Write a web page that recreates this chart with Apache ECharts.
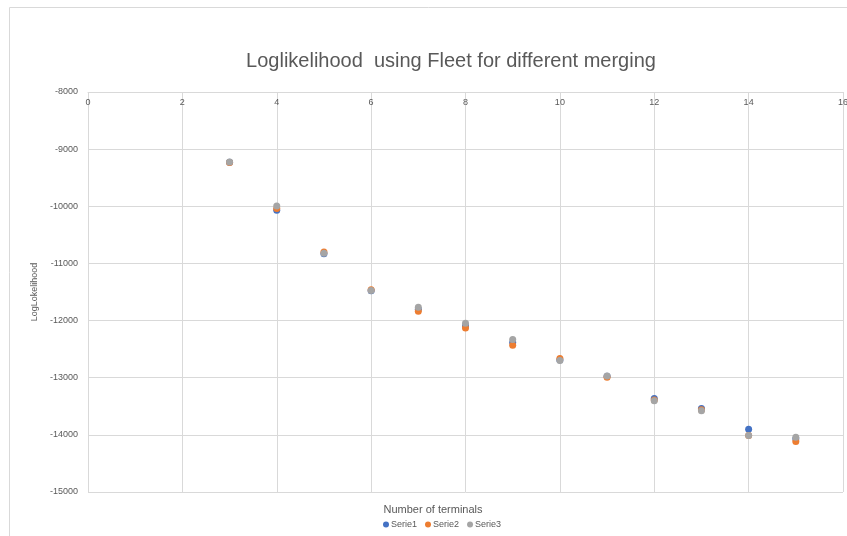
<!DOCTYPE html>
<html>
<head>
<meta charset="utf-8">
<script src="https://cdn.jsdelivr.net/npm/echarts@6/dist/echarts.min.js"></script>
<style>
  html, body { margin: 0; padding: 0; background: #fff; }
  #chart { width: 847px; height: 536px; }
</style>
</head>
<body>
<div id="chart"></div>
<script>
// Number of terminals per merging level
const terminals = [3, 4, 5, 6, 7, 8, 9, 10, 11, 12, 13, 14, 15];
// Log-likelihood per series
const serie1 = [-9230, -10070, -10830, -11480, -11800, -12095, -12385, -12690, -12975, -13365, -13540, -13900, -14070];
const serie2 = [-9235, -10040, -10800, -11460, -11835, -12130, -12430, -12665, -12990, -13390, -13560, -14010, -14115];
const serie3 = [-9225, -9995, -10820, -11475, -11765, -12045, -12330, -12700, -12970, -13405, -13580, -14010, -14040];
const xTicks = { min: 0, max: 16, step: 2 };
const yTicks = { min: -15000, max: -8000, step: 1000 };

const colors = ['#4472C4', '#ED7D31', '#A5A5A5'];
const font = 'Liberation Sans, Arial, sans-serif';

function pairs(vals) {
  return terminals.map((t, i) => [t, vals[i]]);
}

const chart = echarts.init(document.getElementById('chart'));
chart.setOption({
  animation: false,
  color: colors,
  grid: { left: 88, right: 4, top: 92, bottom: 44, outerBoundsMode: 'none' },
  legend: {
    bottom: 2,
    left: 378,
    itemWidth: 6,
    itemHeight: 6,
    itemGap: 8,
    icon: 'circle',
    textStyle: { fontFamily: font, fontSize: 9, color: '#595959', padding: [0, 0, 0, -3] },
    data: ['Serie1', 'Serie2', 'Serie3']
  },
  graphic: [
    { type: 'rect', shape: { x: 9.5, y: 7.5, width: 900, height: 600 }, style: { fill: 'none', stroke: '#d9d9d9', lineWidth: 1 }, silent: true },
    { type: 'text', x: 451, y: 61, style: { text: 'Loglikelihood  using Fleet for different merging', fontFamily: font, fontSize: 20, fill: '#595959', align: 'center', verticalAlign: 'middle' } },
    { type: 'text', x: 433, y: 510, style: { text: 'Number of terminals', fontFamily: font, fontSize: 11, fill: '#595959', align: 'center', verticalAlign: 'middle' } }
  ],
  xAxis: {
    type: 'value',
    position: 'top',
    min: xTicks.min, max: xTicks.max, interval: xTicks.step,
    axisLine: { show: true, lineStyle: { color: '#d9d9d9' } },
    axisTick: { show: false },
    axisLabel: { inside: true, margin: 6, fontFamily: font, fontSize: 9, color: '#595959', verticalAlign: 'top' },
    splitLine: { show: true, lineStyle: { color: '#d9d9d9' } }
  },
  yAxis: {
    type: 'value',
    min: yTicks.min, max: yTicks.max, interval: yTicks.step,
    name: 'LogLokelihood',
    nameLocation: 'middle',
    nameGap: 48,
    nameTextStyle: { fontFamily: font, fontSize: 9, color: '#595959' },
    axisLine: { show: false },
    axisTick: { show: false },
    axisLabel: { margin: 10, fontFamily: font, fontSize: 9, color: '#595959', formatter: v => String(v) },
    splitLine: { show: true, lineStyle: { color: '#d9d9d9' } }
  },
  series: [
    { name: 'Serie1', type: 'scatter', symbolSize: 7, itemStyle: { opacity: 1 }, data: pairs(serie1) },
    { name: 'Serie2', type: 'scatter', symbolSize: 7, itemStyle: { opacity: 1 }, data: pairs(serie2) },
    { name: 'Serie3', type: 'scatter', symbolSize: 7, itemStyle: { opacity: 1 }, data: pairs(serie3) }
  ]
});
</script>
</body>
</html>
